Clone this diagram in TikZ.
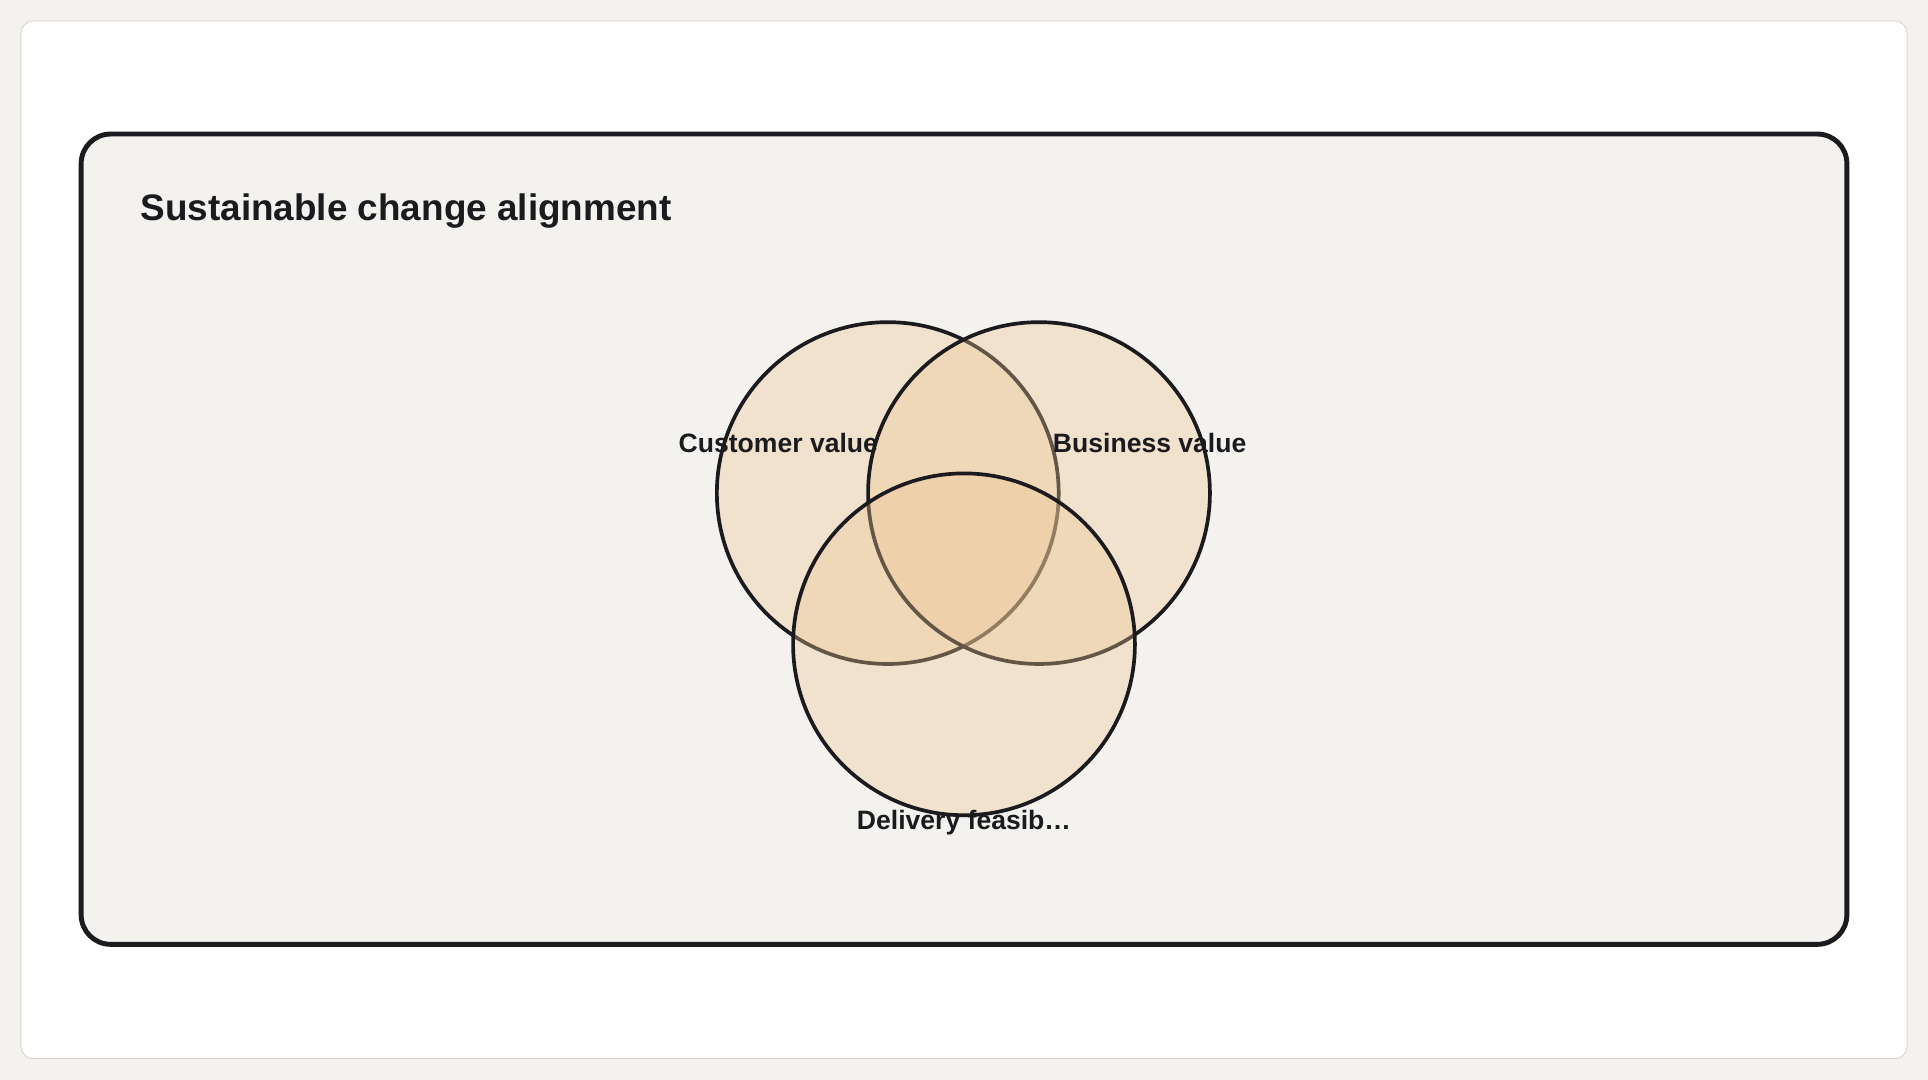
\documentclass[tikz,border=0pt]{standalone}
\usepackage{fontspec}
\setmainfont{Liberation Sans}
\definecolor{pagebg}{HTML}{F4F2EE}
\definecolor{cardline}{HTML}{DDD5CC}
\definecolor{ink}{HTML}{1A1A1F}
\definecolor{setfill}{HTML}{EDC691}
\tikzset{
  venn/.style={circle,draw=ink,line width=1.5pt,fill=setfill,fill opacity=0.35,
    minimum size=139pt,inner sep=0pt},
  setlabel/.style={font=\bfseries\fontsize{10.8}{13}\selectfont,text=ink}
}
\begin{document}
\begin{tikzpicture}[x=0.5pt,y=-0.5pt]
    \fill[pagebg] (0,0) rectangle (1568,878);
    \draw[cardline,fill=white,rounded corners=5pt] (17,17) rectangle (1551,861);
    \draw[ink,fill=pagebg,line width=2pt,rounded corners=12pt] (66,109) rectangle (1502,768);
    \node[anchor=west,inner sep=0pt,font=\bfseries\fontsize{15}{18}\selectfont,text=ink] (title) at (114,172) {Sustainable change alignment};
    % the three sets
    \node[venn] (cust) at (722,401) {};
    \node[venn] (biz) at (845,401) {};
    \node[venn] (deliv) at (784,524) {};
    \node[setlabel] (custlbl) at (633,360) {Customer value};
    \node[setlabel] (bizlbl) at (935,360) {Business value};
    \node[setlabel] (delivlbl) at (784,669) {Delivery feasib…};
\end{tikzpicture}
\end{document}
